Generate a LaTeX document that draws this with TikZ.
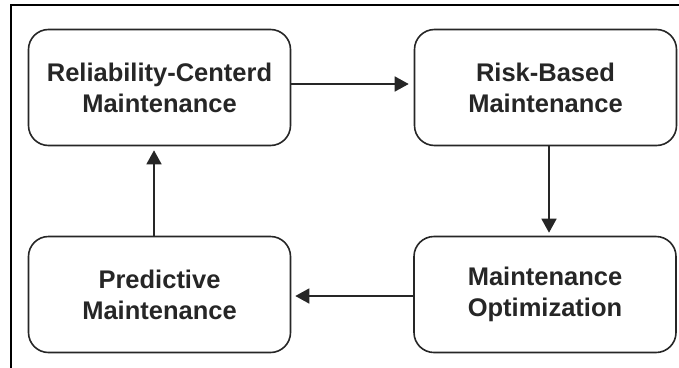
\documentclass[tikz,border=0pt]{standalone}
\usepackage{fontspec}
\setmainfont{Liberation Sans}
\usetikzlibrary{arrows.meta}
\begin{document}
\begin{tikzpicture}[x=1pt,y=-1pt,
  box/.style={draw=black!85,line width=1.6pt,rounded corners=20pt,minimum width=262pt,minimum height=116pt,align=center,font=\fontsize{25.5}{31}\selectfont\bfseries,text=black!85,inner sep=0pt},
  conn/.style={line width=1.5pt,draw=black!85,-{Triangle[length=14pt,width=15pt]}}]
\useasboundingbox (0,0) rectangle (679,367);
\fill[white] (0,0) rectangle (679,367);
\draw[line width=2pt] (680,5) -- (11,5) -- (11,368);
\node[box] (rcm) at (159.5,87.5) {Reliability-Centerd\\Maintenance};
\node[box] (rbm) at (545.5,87.5) {Risk-Based\\Maintenance};
\node[box] (pm) at (159.5,294.5) {Predictive\\Maintenance};
\node[box] (mo) at (545,294.5) {Maintenance\\Optimization};
\draw[conn,shorten >=5pt] (rcm.east |- 0,84) -- (rbm.west |- 0,84);
\draw[conn,shorten >=3pt] (rbm.south -| 549,0) -- (mo.north -| 549,0);
\draw[conn,shorten >=4pt] (mo.west |- 0,296) -- (pm.east |- 0,296);
\draw[conn,shorten >=4pt] (pm.north -| 154,0) -- (rcm.south -| 154,0);
\end{tikzpicture}
\end{document}
